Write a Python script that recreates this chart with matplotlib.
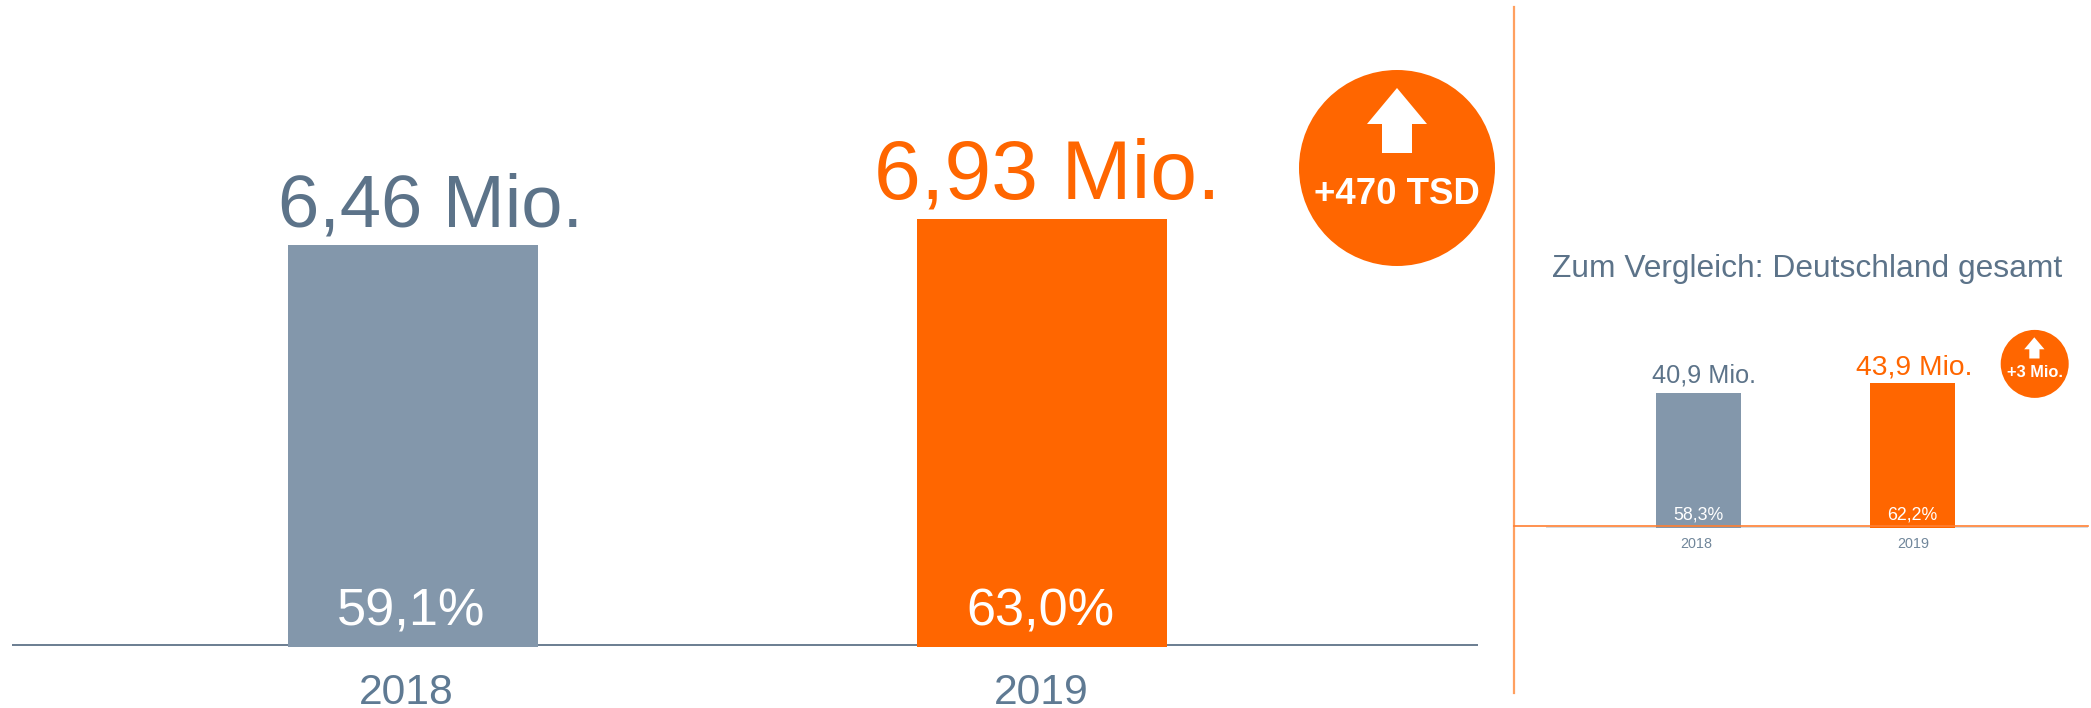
import matplotlib
matplotlib.use('Agg')
import matplotlib.pyplot as plt
from matplotlib.patches import Circle, Polygon

W, H = 2091, 708

years = ['2018', '2019']
region_values = [6.46, 6.93]
region_labels = ['6,46 Mio.', '6,93 Mio.']
region_shares = ['59,1%', '63,0%']
germany_values = [40.9, 43.9]
germany_labels = ['40,9 Mio.', '43,9 Mio.']
germany_shares = ['58,3%', '62,2%']

GREY = '#8397AB'
ORANGE = '#FF6600'
SLATE = '#5C7389'
LINE = '#FFA060'

plt.rcParams['font.family'] = ['Liberation Sans', 'DejaVu Sans']


def px_axes(fig, left, right, top, bottom):
    return fig.add_axes([left / W, 1 - bottom / H, (right - left) / W, (bottom - top) / H])


def bar_panel(fig, left, right, top, bottom, centers, width_px, values, base, px_per_unit, line_color, line_w, line_px):
    ax = px_axes(fig, left, right, top, bottom)
    step = centers[1] - centers[0]
    heights = [v - base for v in values]
    ax.bar([0, 1], heights, bottom=base, width=width_px / step, color=[GREY, ORANGE], zorder=2)
    ax.axhline(base + line_px / px_per_unit, color=line_color, lw=line_w, zorder=1)
    ax.set_xlim((left - centers[0]) / step, (right - centers[0]) / step)
    ax.set_ylim(base, base + (bottom - top) / px_per_unit)
    ax.axis('off')
    return ax


fig = plt.figure(figsize=(W / 100, H / 100), dpi=100, facecolor='white')

# the main bars are not drawn from zero in the original, hence the lower base
bar_panel(fig, 12, 1478, 0, 646.8, [413, 1041.5], 250, region_values, -0.885, 54.7, '#5F7388', 1.3, 1.5)
bar_panel(fig, 1546, 2088, 340, 528, [1698.5, 1912.5], 85, germany_values, 0, 3.31, '#D5DBE2', 1.5, 0.5)

# overlay in pixel coordinates for labels and badges
ov = fig.add_axes([0, 0, 1, 1])
ov.set_xlim(0, W)
ov.set_ylim(H, 0)
ov.axis('off')
ov.patch.set_alpha(0)

ov.plot([1514, 1514], [7, 693], color=LINE, lw=1.6)
ov.plot([1514, 2088], [526.4, 526.4], color='#FF7F32', lw=1.2)


def label(x, y, s, size, color, weight='normal'):
    ov.text(x, y, s, fontsize=size, color=color, ha='center', va='baseline', fontweight=weight)


label(430, 227, region_labels[0], 53.4, SLATE)
label(1047, 198.3, region_labels[1], 60.7, ORANGE)
label(411, 625, region_shares[0], 37.6, 'white')
label(1040, 625, region_shares[1], 37.6, 'white')
label(406, 704.5, years[0], 30.7, '#5F7A93')
label(1041.5, 704.5, years[1], 30.7, '#5F7A93')

label(1807.5, 277, 'Zum Vergleich: Deutschland gesamt', 22.9, SLATE)
label(1704, 383, germany_labels[0], 18.2, SLATE)
label(1914, 374, germany_labels[1], 20.3, ORANGE)
label(1698.5, 520, germany_shares[0], 12.8, 'white')
label(1912.5, 520, germany_shares[1], 12.8, 'white')
label(1696.7, 548, years[0], 10.4, '#71879B')
label(1913.5, 548, years[1], 10.4, '#71879B')


def badge(cx, cy, r, arrow, text, tx_y, size):
    ov.add_patch(Circle((cx, cy), r, color=ORANGE, lw=0))
    ov.add_patch(Polygon(arrow, closed=True, color='white', lw=0))
    label(cx, tx_y, text, size, 'white', 'bold')


badge(1397, 168, 98,
      [(1397, 88), (1427, 124), (1412, 124), (1412, 153), (1382, 153), (1382, 124), (1367, 124)],
      '+470 TSD', 204, 26.4)
badge(2034.7, 363.9, 34,
      [(2034.3, 337.3), (2044.5, 349.3), (2039.5, 349.3), (2039.5, 358.5), (2029.3, 358.5), (2029.3, 349.3), (2024.2, 349.3)],
      '+3 Mio.', 376.7, 11.8)

fig.savefig('out.png', dpi=100)
